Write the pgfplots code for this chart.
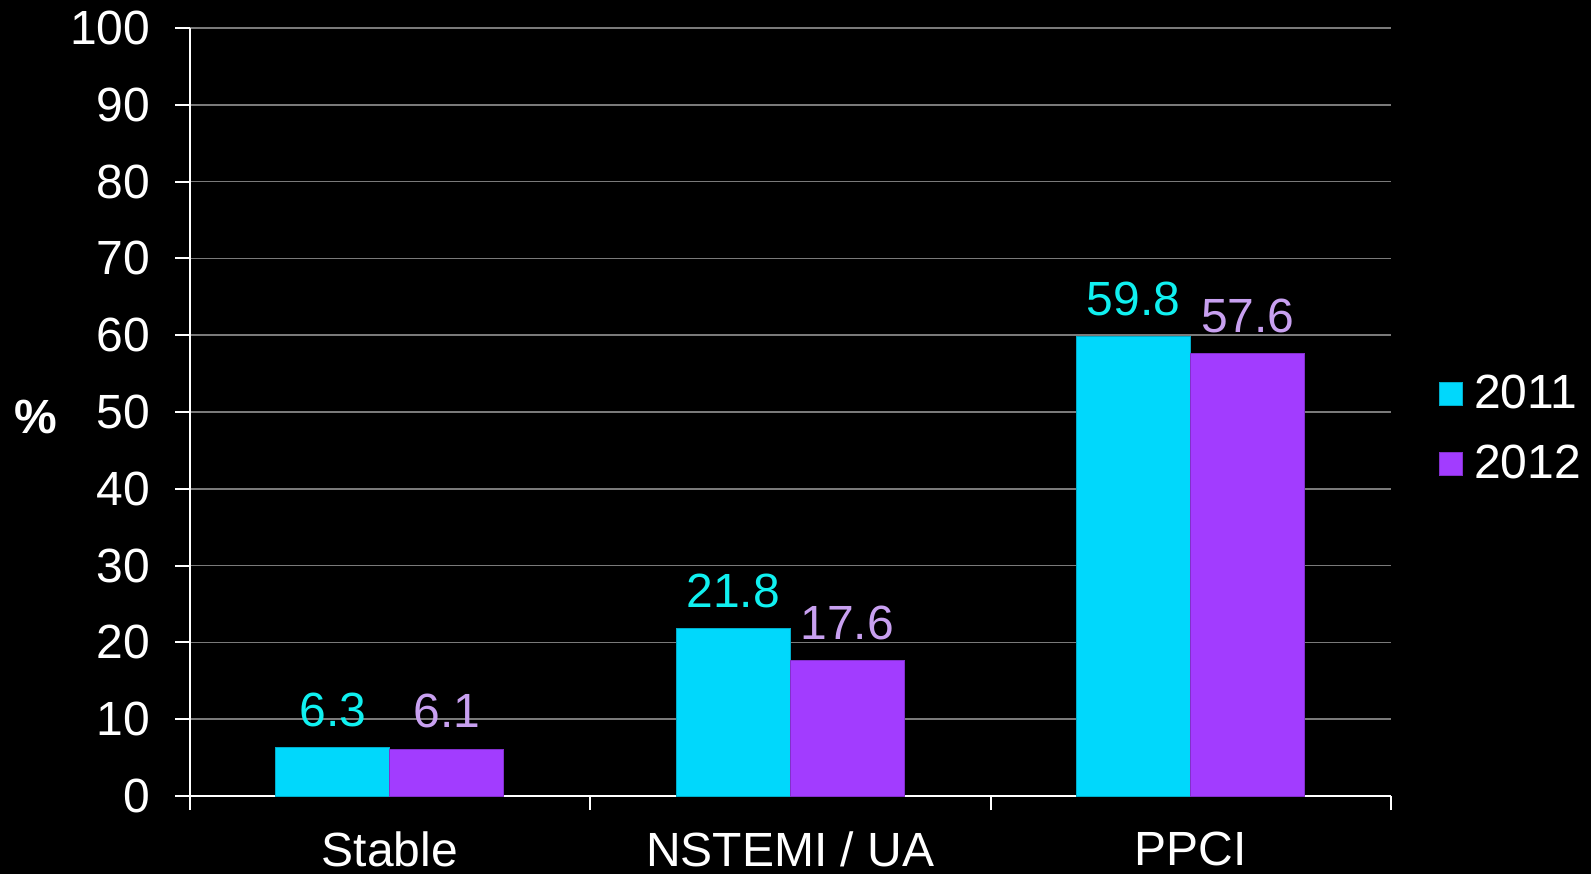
\documentclass[border=0pt]{standalone}
\usepackage{pgfplots}
\pgfplotsset{compat=1.18}
\usetikzlibrary{backgrounds}
\usepackage{fontspec}
\setmainfont{Liberation Sans}
\definecolor{cyanbar}{HTML}{00D8FC}
\definecolor{purpbar}{HTML}{A23CFF}
\definecolor{cyanlab}{HTML}{10F0F0}
\definecolor{purplab}{HTML}{C8A0F0}
\definecolor{gridc}{HTML}{7A7A7A}
\begin{document}
\begin{tikzpicture}
\begin{axis}[
  scale only axis,
  width=360.45pt, height=230.4pt,
  ymin=0, ymax=100,
  xmin=-0.5, xmax=2.5,
  ytick={0,10,...,100},
  xtick={0,1,2},
  xticklabels={Stable, NSTEMI / UA, PPCI},
  minor xtick={-0.5,0.5,1.5,2.5},
  major x tick style={draw=none},
  minor tick length=4.2pt,
  major tick length=4.2pt,
  tick align=outside,
  axis x line*=bottom,
  axis y line*=left,
  axis line style={white, line width=0.6pt},
  tick style={white, line width=0.6pt},
  ymajorgrids,
  grid style={gridc, line width=0.5pt},
  font=\fontsize{14.4}{17.3}\selectfont,
  /pgf/number format/assume math mode=true,
  tick label style={white},
  yticklabel style={xshift=-4pt},
  xticklabel style={yshift=-3pt},
  ybar=0pt,
  bar width=0.285,
  nodes near coords,
  nodes near coords style={font=\fontsize{14.4}{17.3}\selectfont, yshift=2.8pt},
  every node near coord/.append style={/pgf/number format/fixed, /pgf/number format/fixed zerofill, /pgf/number format/precision=1, /pgf/number format/assume math mode=true},
  legend style={at={(1,0.478)}, anchor=west, xshift=11.2pt, draw=none, fill=black,
    text=white, font=\fontsize{14.4}{17.3}\selectfont, row sep=5.5pt,
    legend cell align=left},
  legend image code/.code={\fill[#1] (0pt,-3.5pt) rectangle (7pt,3.5pt); \path (8.2pt,0pt);},
  clip=false,
]
\addplot[fill=cyanbar, draw=cyanbar!80!black, line width=0.3pt, every node near coord/.append style={text=cyanlab}]
  coordinates {(0,6.3) (1,21.8) (2,59.8)};
\addplot[fill=purpbar, draw=purpbar!80!black, line width=0.3pt, every node near coord/.append style={text=purplab}]
  coordinates {(0,6.1) (1,17.6) (2,57.6)};
\legend{2011,2012}
\node[white, font=\fontsize{14.4}{17.3}\selectfont\bfseries] at (rel axis cs:0,0.5) [xshift=-46pt, yshift=-1.5pt] {\%};
\coordinate (sw) at (rel axis cs:0,0);
\coordinate (ne) at (rel axis cs:1,1);
\end{axis}
\pgfresetboundingbox
\begin{scope}[on background layer]
\path[fill=black, use as bounding box] ([xshift=-56.85pt, yshift=-23.4pt]sw) rectangle ([xshift=60pt, yshift=8.4pt]ne);
\end{scope}
\end{tikzpicture}
\end{document}
